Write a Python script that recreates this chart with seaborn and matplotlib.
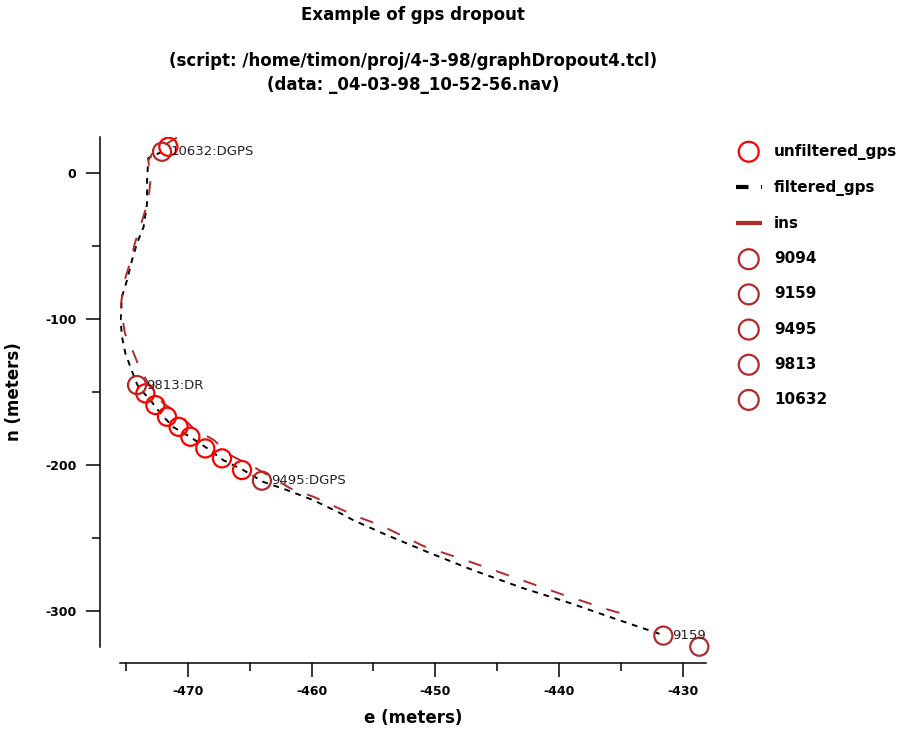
import numpy as np
import pandas as pd
import seaborn as sns
import matplotlib.pyplot as plt
import matplotlib.transforms as mtransforms

# filtered gps track (e, n) in meters
filt_e = [-472.10, -473.21, -473.31, -473.31, -473.59, -474.12, -474.53, -474.93, -475.34,
          -475.45, -475.34, -475.07, -474.66, -474.26, -474.02, -473.05, -472.24, -471.19,
          -469.81, -468.46, -467.15, -465.53, -463.91, -462.00, -459.87, -457.69, -456.64,
          -453.91, -450.41, -446.94, -442.90, -439.10, -435.62, -431.58]
filt_n = [14.8, 10.5, -4.6, -20.3, -36.6, -47.7, -59.4, -73.1, -84.5,
          -100.5, -111.9, -123.1, -132.5, -141.6, -146.2, -155.3, -164.2, -173.8,
          -180.6, -188.2, -196.4, -203.2, -211.3, -216.9, -223.8, -232.7, -237.5,
          -247.8, -260.1, -271.8, -284.1, -294.3, -304.6, -316.2]

# ins track
ins_e = [-470.90, -471.70, -472.80, -473.20, -473.05, -473.20, -473.70, -474.30, -474.70,
         -475.20, -475.45, -475.10, -474.50, -473.90, -473.00, -472.00, -470.80, -469.55,
         -467.90, -466.60, -464.70, -461.70, -459.85, -456.30, -454.45, -450.95, -447.20,
         -443.40, -439.60, -435.90, -434.00]
ins_n = [24.5, 20.5, 14.8, 9.1, -5.8, -18.3, -32.0, -47.9, -61.6,
         -75.3, -91.4, -109.6, -121.0, -133.6, -147.0, -157.5, -164.4, -174.7,
         -182.7, -192.9, -201.0, -215.8, -221.5, -235.2, -240.9, -255.3, -266.0,
         -277.4, -288.8, -299.1, -303.7]

# unfiltered gps fixes
gps_e = [-471.59, -473.45, -472.64, -471.70, -470.76, -469.81, -468.60, -467.25, -465.63]
gps_n = [18.2, -150.7, -158.7, -166.7, -173.6, -180.4, -188.4, -195.2, -203.2]

# tagged events
event_ids = ['9094', '9159', '9495', '9813', '10632']
event_e = [-428.64, -431.55, -464.02, -474.12, -472.10]
event_n = [-324.2, -316.6, -210.5, -145.0, 14.8]
event_tags = ['DGPS', 'DGPS', 'DGPS', 'DR', 'DGPS']

red = '#ff0000'
dark_red = '#b22a2a'

sns.set_theme(style='ticks')
plt.rcParams['font.family'] = ['DejaVu Sans']
plt.rcParams['font.weight'] = 'bold'
plt.rcParams['axes.labelweight'] = 'bold'
plt.rcParams['axes.unicode_minus'] = False
plt.rcParams['text.color'] = 'black'
plt.rcParams['axes.labelcolor'] = 'black'
plt.rcParams['xtick.color'] = 'black'
plt.rcParams['ytick.color'] = 'black'

fig = plt.figure(figsize=(9.2, 7.34), dpi=100)
ax = fig.add_axes([120 / 920, 1 - 646.7 / 734, (706 - 120) / 920, (646.7 - 137.3) / 734])

df_filt = pd.DataFrame({'e': filt_e, 'n': filt_n})
df_ins = pd.DataFrame({'e': ins_e, 'n': ins_n})
df_gps = pd.DataFrame({'e': gps_e, 'n': gps_n})

sns.scatterplot(data=df_gps, x='e', y='n', ax=ax, marker='o', s=170, facecolor='none',
                edgecolor=red, linewidth=1.6, label='unfiltered_gps', zorder=3)
sns.lineplot(data=df_filt, x='e', y='n', ax=ax, sort=False, estimator=None, color='black',
             lw=1.4, ls=(0, (3, 3)), label='filtered_gps', zorder=2)
sns.lineplot(data=df_ins, x='e', y='n', ax=ax, sort=False, estimator=None, color=dark_red,
             lw=1.4, ls=(0, (7, 8)), label='ins', zorder=2)

# event circles with their labels (labels clipped to the plot area)
shift = mtransforms.offset_copy(ax.transData, fig=fig, x=9, y=0, units='dots')
for eid, e, n, tag in zip(event_ids, event_e, event_n, event_tags):
    sns.scatterplot(x=[e], y=[n], ax=ax, marker='o', s=170, facecolor='none',
                    edgecolor=dark_red, linewidth=1.6, label=eid, zorder=4, clip_on=False)
    ax.text(e, n, f'{eid}:{tag}', transform=shift, fontsize=9.5, fontweight='normal',
            color='#222222', ha='left', va='center', clip_on=True, zorder=5)

ax.set_xlim(-475.5, -428.1)
ax.set_ylim(-324.2, 24.7)
ax.set_xticks([-470, -460, -450, -440, -430])
ax.set_xticks([-475, -465, -455, -445, -435], minor=True)
ax.set_yticks([0, -100, -200, -300])
ax.set_yticks([-50, -150, -250], minor=True)
ax.tick_params(which='major', direction='out', length=10, width=1.1, color='black',
               labelsize=9, pad=6)
ax.tick_params(which='minor', direction='out', length=5.5, width=1.1, color='black')
ax.tick_params(axis='y', which='major', pad=7)
for sp in ['left', 'bottom']:
    ax.spines[sp].set_linewidth(1.1)
    ax.spines[sp].set_color('black')
sns.despine(ax=ax, offset={'left': 14.4, 'bottom': 11.7})

ax.set_xlabel('e (meters)', fontsize=12, labelpad=8)
ax.set_ylabel('n (meters)', fontsize=12, labelpad=16)

fig.text(413 / 920, 1 - 15 / 734, 'Example of gps dropout', ha='center', va='center',
         fontsize=12)
fig.text(413 / 920, 1 - 61 / 734, '(script: /home/timon/proj/4-3-98/graphDropout4.tcl)',
         ha='center', va='center', fontsize=12)
fig.text(413 / 920, 1 - 85 / 734, '(data: _04-03-98_10-52-56.nav)', ha='center',
         va='center', fontsize=12)

handles, labels = ax.get_legend_handles_labels()
leg = ax.legend(handles, labels, loc='upper left', bbox_to_anchor=(722 / 920, 1 - 130 / 734),
                bbox_transform=fig.transFigure, frameon=False, fontsize=11,
                labelspacing=1.32, handlelength=1.7, handletextpad=0.8, markerscale=1.1)
for ln in leg.get_lines():
    ln.set_linewidth(3)

fig.savefig('out.png', dpi=100)
